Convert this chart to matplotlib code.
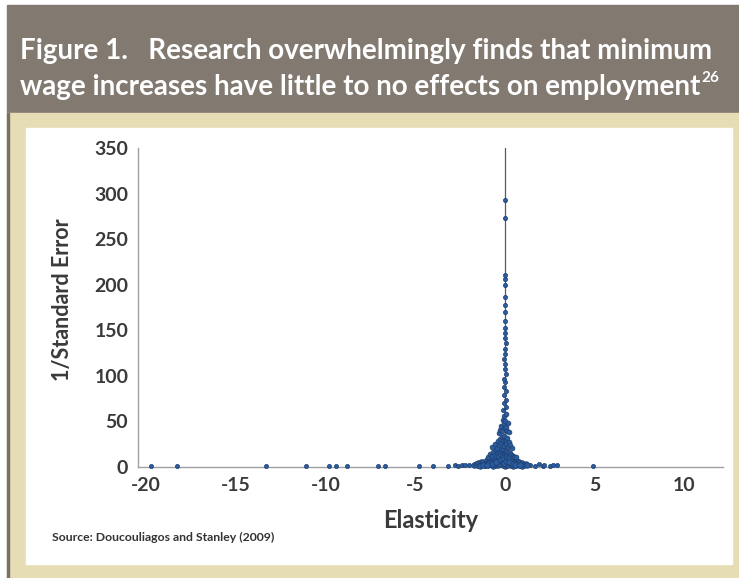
import matplotlib.pyplot as plt
from matplotlib.patches import Rectangle

plt.rcParams["axes.unicode_minus"] = False

# ============================
# data
# ============================
tail_elast = [-19.7, -18.3, -13.3, -11.1, -9.8, -9.4, -8.8, -7.1, -6.7, -4.8,
              -4.0, -3.2, -2.8, -2.6, -2.4, -2.2, -2.0, 1.4, 1.7, 1.9, 2.1,
              2.2, 2.5, 2.7, 2.9, 4.9]
tail_prec = [1.2, 1.0, 1.1, 1.5, 1.3, 1.0, 1.2, 1.4, 1.6, 1.0, 1.5, 1.2, 2.0,
             1.4, 2.2, 1.8, 2.6, 2.4, 1.6, 2.8, 1.2, 2.0, 1.5, 2.2, 1.8, 1.4]

base_elast = [-1.75, -1.62, -1.55, -1.48, -1.41, -1.33, -1.27, -1.2, -1.14,
              -1.08, -1.02, -0.97, -0.91, -0.86, -0.8, -0.76, -0.71, -0.66,
              -0.62, -0.57, -0.53, -0.48, -0.44, -0.4, -0.36, -0.31, -0.27,
              -0.23, -0.19, -0.15, -0.11, -0.07, -0.03, 0.01, 0.05, 0.09,
              0.13, 0.17, 0.21, 0.26, 0.3, 0.35, 0.4, 0.46, 0.52, 0.58, 0.65,
              0.72, 0.8, 0.88, 0.97, 1.06, 1.15, 1.25,
              -1.38, -1.12, -0.94, -0.78, -0.64, -0.5, -0.38, -0.25, -0.13,
              -0.02, 0.08, 0.19, 0.32, 0.44, 0.6, 0.76, 0.93, -0.69, -0.45,
              -0.21, 0.0, 0.15, 0.37, -0.55, -0.3, -0.09, 0.11, 0.27,
              -0.88, -0.6, -0.42, -0.33, -0.17, -0.05, 0.06, 0.18, 0.29,
              0.49, 0.68, -0.73, -0.52, -0.28, -0.12, 0.03, 0.14, 0.24,
              0.42, -1.22, -0.99, 0.55, 0.84]
base_prec = [2.1, 3.4, 1.8, 4.2, 2.7, 5.1, 3.3, 6.0, 2.5, 4.8, 7.2, 3.6, 5.9,
             8.4, 4.1, 6.7, 9.3, 5.2, 7.8, 3.9, 10.5, 6.4, 8.9, 4.6, 11.8,
             7.3, 9.6, 5.5, 12.4, 8.1, 3.8, 10.2, 6.9, 13.1, 9.0, 4.4, 11.3,
             7.6, 10.8, 5.7, 8.8, 6.2, 9.7, 4.9, 7.4, 3.7, 6.1, 4.3, 5.4,
             3.1, 4.0, 2.6, 3.2, 2.4,
             1.6, 2.2, 1.9, 2.8, 1.5, 2.4, 1.7, 3.0, 2.0, 1.4, 2.6, 1.8,
             2.3, 1.5, 2.1, 1.7, 1.6, 12.8, 14.5, 16.2, 15.4, 13.9, 11.6,
             9.8, 13.4, 17.1, 14.8, 10.9,
             4.5, 3.1, 6.3, 9.1, 7.0, 4.8, 8.3, 5.6, 7.9, 4.2, 3.3, 2.9,
             5.0, 8.6, 10.4, 6.6, 9.4, 5.3, 3.5, 1.9, 2.7, 2.2, 1.8]

body_elast = [-0.95, -0.82, -0.74, -0.66, -0.58, -0.51, -0.45, -0.39, -0.33,
              -0.28, -0.23, -0.18, -0.13, -0.09, -0.05, -0.01, 0.03, 0.07,
              0.12, 0.17, 0.22, 0.28, 0.35, 0.43, 0.52, 0.62,
              -0.7, -0.55, -0.46, -0.38, -0.31, -0.25, -0.2, -0.15, -0.11,
              -0.07, -0.03, 0.0, 0.04, 0.08, 0.12, 0.17, 0.23, 0.3, 0.38,
              -0.35, -0.27, -0.21, -0.16, -0.12, -0.08, -0.05, -0.02, 0.01,
              0.04, 0.07, 0.11, 0.15, 0.2]
body_prec = [11, 14, 12, 17, 13, 19, 15, 12, 18, 14, 20, 16, 13, 19, 15, 17,
             12, 18, 14, 16, 11, 15, 13, 12, 11, 10.5,
             22, 25, 21, 28, 24, 31, 26, 33, 29, 23, 34, 27, 30, 25, 32, 22,
             27, 24, 21,
             37, 41, 45, 39, 52, 47, 56, 43, 50, 58, 44, 40, 48, 38]

spike_elast = [-0.12, 0.06, -0.08, 0.04, -0.05, 0.03, -0.06, 0.02, -0.03,
               0.04, -0.02, 0.01, -0.04, 0.02, -0.01, 0.03, -0.02, 0.01, 0.0,
               -0.01, 0.01, -0.02, 0.0, -0.01, 0.01, 0.0, 0.0, 0.0]
spike_prec = [62, 66, 70, 74, 79, 83, 88, 93, 97, 102, 108, 113, 118, 124,
              130, 136, 141, 147, 152, 160, 170, 178, 187, 200, 206, 211,
              273, 293]

y_ticks = [0, 50, 100, 150, 200, 250, 300, 350]
x_ticks = [-20, -15, -10, -5, 0, 5, 10]

title_1 = "Figure 1.   Research overwhelmingly finds that minimum"
title_2 = "wage increases have little to no effects on employment"
footnote = "26"
source = "Source: Doucouliagos and Stanley (2009)"

W, H = 739, 578
FONT = "Lato"
TXT = "#3A3A3A"


def fx(px):
    return px / W


def fy(py):
    return 1 - py / H


fig = plt.figure(figsize=(W / 100, H / 100), dpi=100)
fig.patch.set_facecolor("white")

# frame: header bar, beige border, white panel
fig.patches.append(Rectangle((fx(7), fy(113)), fx(732), 108 / H,
                             transform=fig.transFigure, color="#827A71", zorder=0))
fig.patches.append(Rectangle((fx(7), 0), fx(732), fy(113),
                             transform=fig.transFigure, color="#E6DDB4", zorder=0))
fig.patches.append(Rectangle((fx(7), 0), fx(2), fy(113),
                             transform=fig.transFigure, color="#7A7068", zorder=1))
fig.patches.append(Rectangle((fx(26), fy(564)), fx(706), 436 / H,
                             transform=fig.transFigure, color="white", zorder=1))

t1 = fig.text(fx(20), fy(59), title_1, color="white", fontsize=20,
              fontweight="bold", family=FONT, va="baseline", ha="left")
t2 = fig.text(fx(20), fy(95), title_2, color="white", fontsize=20,
              fontweight="bold", family=FONT, va="baseline", ha="left")
fig.canvas.draw()
bb = t2.get_window_extent()
fig.text(bb.x1 / W + 0.002, fy(82), footnote, color="white", fontsize=11,
         fontweight="bold", family=FONT, va="baseline", ha="left")

ax = fig.add_axes([fx(138), fy(467), fx(585), 319 / H])
ax.set_facecolor("none")
ax.set_zorder(3)

ax.plot([0, 0], [0, 350], color="#5A5A5A", linewidth=0.9, zorder=2)

groups = [(tail_elast, tail_prec, 9), (base_elast, base_prec, 16),
          (body_elast, body_prec, 12), (spike_elast, spike_prec, 9)]
for xs, ys, size in groups:
    ax.scatter(xs, ys, s=size, marker="o", color="#2A5C9F",
               edgecolors="#1E3E6E", linewidths=0.5, zorder=3, clip_on=False)

ax.set_xlim(-20.45, 12.15)
ax.set_ylim(0, 350)
ax.set_xticks(x_ticks)
ax.set_yticks(y_ticks)
ax.tick_params(length=0, pad=7, labelcolor=TXT, labelsize=14)
for lab in ax.get_xticklabels() + ax.get_yticklabels():
    lab.set_fontweight("bold")
    lab.set_family(FONT)

for s in ["top", "right"]:
    ax.spines[s].set_visible(False)
for s in ["left", "bottom"]:
    ax.spines[s].set_color("#A0A0A0")
    ax.spines[s].set_linewidth(1.0)

fig.text(fx(431), fy(520), "Elasticity", color=TXT, fontsize=17,
         fontweight="bold", family=FONT, ha="center", va="center")
fig.text(fx(63), fy(300), "1/Standard Error", color=TXT, fontsize=15.5,
         fontweight="bold", family=FONT, ha="center", va="center",
         rotation=90)
fig.text(fx(52), fy(537), source, color="#333333", fontsize=8.8,
         fontweight="bold", family=FONT, ha="left", va="center")

fig.savefig("out.png", dpi=100)
